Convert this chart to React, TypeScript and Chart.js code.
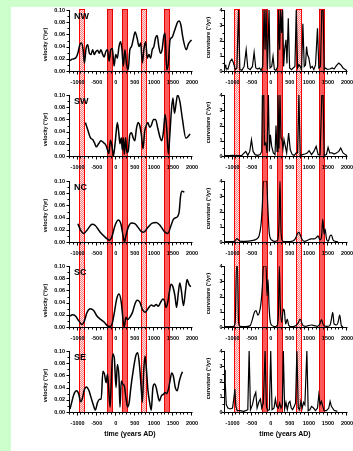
import React, { useEffect, useRef } from "react";
import { Chart, registerables } from "chart.js";
Chart.register(...registerables);

// ---------- axis ticks / categories ----------
const xTickValues = [-1000, -500, 0, 500, 1000, 1500, 2000];
const velTickValues = [0, 0.02, 0.04, 0.06, 0.08, 0.1];
const curvTickValues = [0, 1, 2, 3, 4];
const regionNames = ["NW", "SW", "NC", "SC", "SE"];

// ---------- shaded intervals (years AD) ----------
const bandStarts = [-977, -242, 176, 663, 1256];
const bandEnds = [-819, -84, 334, 821, 1414];
const bandHatched = [true, false, false, true, false];

// ---------- velocity series (deg/yr) ----------
const nwVelYears = [-1200,-1141,-1055,-994,-943,-900,-856,-822,-779,-735,-692,-649,-606,-563,-519,-476,-433,-390,-347,-304,-260,-217,-174,-131,-88,-45,-1,42,85,128,163,197,240,284,327,370,413,456,508,560,612,655,698,741,785,828,871,914,957,1000,1044,1087,1130,1173,1216,1260,1294,1337,1380,1424,1475,1536,1579,1622,1665,1710,1760,1850,1910,1985];
const nwVelValues = [0.017,0.0195,0.021,0.029,0.043,0.046,0.035,0.013,0.037,0.043,0.029,0.027,0.035,0.027,0.032,0.034,0.029,0.035,0.028,0.023,0.032,0.035,0.016,0.035,0.037,0.008,0.027,0.021,0.040,0.048,0.035,0.008,0.035,0.010,0.002,0.035,0.040,0.051,0.064,0.054,0.040,0.046,0.013,0.037,0.048,0.021,0.027,0.021,0.035,0.040,0.054,0.058,0.040,0.029,0.035,0.057,0.062,0.002,0.013,0.051,0.055,0.065,0.073,0.080,0.082,0.075,0.055,0.035,0.045,0.051];

const swVelYears = [-796,-735,-666,-606,-554,-511,-450,-390,-321,-260,-217,-183,-139,-96,-62,-10,42,76,111,146,171,197,223,258,292,327,370,413,456,500,543,586,629,672,715,758,802,845,888,931,992,1044,1104,1164,1208,1251,1294,1337,1380,1424,1460,1500,1540,1580,1620,1680,1750,1840,1950];
const swVelValues = [0.055,0.043,0.030,0.027,0.021,0.015,0.020,0.025,0.022,0.018,0.010,0.004,0.026,0.015,0.000,0.025,0.055,0.040,0.020,0.030,0.010,0.030,0.003,0.030,0.005,0.008,0.035,0.038,0.030,0.025,0.045,0.055,0.050,0.035,0.012,0.040,0.050,0.055,0.047,0.050,0.060,0.060,0.045,0.030,0.025,0.040,0.068,0.045,0.003,0.040,0.075,0.095,0.070,0.085,0.100,0.090,0.060,0.029,0.036];

const ncVelYears = [-994,-925,-839,-735,-623,-537,-407,-278,-165,-105,-19,68,137,197,232,266,327,413,500,586,672,733,845,957,1061,1164,1277,1363,1450,1510,1579,1625,1665,1700,1740,1800];
const ncVelValues = [0.030,0.020,0.014,0.021,0.029,0.027,0.016,0.008,0.003,0.008,0.027,0.036,0.029,0.008,0.000,0.010,0.024,0.031,0.030,0.024,0.017,0.016,0.024,0.031,0.032,0.027,0.017,0.014,0.027,0.037,0.040,0.042,0.050,0.075,0.083,0.082];

const scVelYears = [-1200,-1141,-1055,-969,-882,-822,-753,-666,-580,-494,-407,-304,-217,-148,-96,-36,25,85,146,197,223,266,309,370,439,500,560,629,698,767,845,931,1000,1061,1113,1173,1234,1277,1320,1363,1406,1450,1493,1553,1596,1640,1680,1720,1777,1830,1870,1920,1968];
const scVelValues = [0.018,0.020,0.018,0.010,0.004,0.010,0.024,0.030,0.027,0.018,0.013,0.008,0.002,0.001,0.005,0.024,0.046,0.054,0.040,0.008,0.000,0.016,0.012,0.016,0.024,0.037,0.044,0.041,0.029,0.024,0.030,0.036,0.034,0.037,0.034,0.040,0.046,0.043,0.032,0.040,0.057,0.070,0.067,0.051,0.032,0.055,0.072,0.060,0.035,0.060,0.078,0.070,0.066];

const seVelYears = [-1200,-1167,-1098,-1029,-969,-925,-882,-822,-770,-709,-649,-580,-537,-476,-424,-381,-338,-295,-252,-217,-183,-148,-113,-79,-36,7,42,85,111,146,180,223,266,309,353,396,456,525,577,629,672,698,733,767,802,845,888,931,974,1018,1061,1104,1147,1199,1251,1294,1337,1380,1424,1467,1510,1562,1614,1665,1710,1751];
const seVelValues = [0.005,0.013,0.029,0.035,0.029,0.017,0.021,0.037,0.041,0.036,0.024,0.010,0.003,0.016,0.021,0.021,0.067,0.062,0.048,0.062,0.035,0.008,0.057,0.095,0.087,0.040,0.078,0.057,0.008,0.051,0.046,0.043,0.024,0.008,0.016,0.040,0.067,0.092,0.097,0.072,0.035,0.016,0.067,0.092,0.072,0.035,0.016,0.003,0.040,0.046,0.040,0.027,0.018,0.027,0.029,0.032,0.030,0.037,0.051,0.064,0.059,0.040,0.035,0.050,0.060,0.066];

// ---------- curvature series (deg/yr) ----------
const nwCurvYears = [-1200,-1176,-1124,-1063,-1019,-976,-932,-889,-845,-811,-758,-698,-645,-602,-541,-480,-436,-393,-341,-297,-254,-210,-175,-149,-123,-88,-45,-19,25,60,95,138,182,208,234,260,286,312,338,364,399,425,460,495,547,590,634,669,704,738,773,808,843,878,912,939,965,999,1043,1087,1130,1174,1226,1261,1304,1339,1374,1400,1435,1487,1548,1609,1661,1722,1783,1835,1896,1957,2000];
const nwCurvValues = [0.41,0.2,0.13,0.63,0.78,0.52,0.09,0.2,4,0.1,0.04,0.3,1.39,0.2,0.09,0.3,1.22,0.2,0.13,0.2,0.04,0.3,4,1.4,4,0.1,4,0.2,0.3,0.96,0.1,0.04,0.3,4,1.4,4,2.5,4,0.3,1.4,2.04,0.5,3.46,0.2,0.09,0.2,0.3,4,0.2,0.41,0.3,0.1,3.1,0.3,0.4,1.6,1.06,0.85,0.2,0.3,0.1,0.4,2.8,0.2,0.3,4,4,0.1,0.2,0.1,0.13,0.2,0.13,0.35,0.52,0.41,0.2,0.09,0.02];

const swCurvYears = [-1200,-1107,-976,-845,-758,-698,-654,-602,-550,-506,-463,-410,-341,-280,-236,-219,-184,-167,-132,-97,-62,-36,-10,25,68,112,138,164,190,216,243,269,295,321,347,373,417,469,512,564,617,669,704,738,773,834,895,956,1008,1069,1130,1191,1243,1295,1339,1374,1400,1461,1504,1548,1609,1661,1722,1783,1835,1896,1957,2000];
const swCurvValues = [0.02,0.02,0.04,0.02,0.04,0.2,0.3,0.04,0.3,1.07,0.3,0.09,0.04,0.09,0.3,4,4,0.74,0.85,0.2,4,0.3,1.39,0.63,0.2,0.09,2.0,0.3,4,0.5,4,1.17,1.07,0.5,1.07,0.74,0.2,1.5,0.41,0.09,0.04,0.2,0.2,4,0.04,0.09,0.13,0.2,0.35,0.09,0.3,0.63,0.09,0.09,4,4,0.04,0.09,0.57,0.2,0.2,0.13,0.2,0.3,0.52,0.2,0.09,0.02];

const ncCurvYears = [-1200,-1063,-950,-889,-845,-776,-671,-497,-367,-306,-254,-219,-193,-106,-80,-36,25,112,182,216,243,269,304,373,460,547,617,660,704,738,782,826,895,982,1052,1139,1200,1243,1287,1330,1365,1400,1426,1461,1504,1557,1591,1635,1696,1760];
const ncCurvValues = [0.02,0.02,0.04,0.22,0.13,0.04,0.04,0.09,0.2,0.41,1.17,2.5,4,4,2.5,0.52,0.13,0.04,0.13,1.2,4,0.74,0.09,0.02,0.02,0.04,0.13,0.3,0.57,0.63,0.41,0.15,0.04,0.13,0.2,0.2,0.3,0.4,0.13,0.3,1.5,0.52,0.85,0.2,0.04,0.41,0.45,0.13,0.04,0.02];

const scCurvYears = [-1200,-1063,-976,-932,-898,-872,-845,-802,-671,-541,-480,-428,-384,-341,-297,-254,-219,-193,-123,-97,-71,-45,-10,42,112,164,199,225,251,286,330,356,390,434,469,530,617,704,773,834,912,982,1069,1139,1226,1287,1330,1382,1461,1548,1591,1626,1661,1722,1765,1809,1852,1896];
const scCurvValues = [0.02,0.02,0.04,0.3,4,4,0.3,0.04,0.02,0.09,0.52,0.96,1.07,0.78,0.96,1.6,2.7,4,4,2.04,3.13,1.39,0.3,0.09,0.02,0.09,0.74,4,1.39,0.3,1.17,1.07,0.2,0.52,0.13,0.02,0.04,0.2,0.52,0.13,0.04,0.09,0.13,0.09,0.04,0.2,0.48,0.13,0.04,0.09,0.52,0.96,0.2,0.13,0.3,0.78,0.09,0.02];

const seCurvYears = [-1200,-1194,-1167,-1124,-1063,-1002,-967,-941,-915,-880,-802,-715,-654,-602,-567,-532,-480,-436,-393,-358,-306,-271,-236,-193,-149,-114,-80,-36,-1,34,86,121,155,199,234,269,304,330,364,399,434,469,503,538,573,617,651,686,721,756,791,825,860,895,947,982,1026,1069,1121,1174,1226,1261,1295,1330,1365,1400,1461,1522,1557,1591,1661,1748];
const seCurvValues = [2.76,1.9,0.48,0.26,0.2,0.26,0.9,1.5,0.37,0.09,0.09,0.04,0.09,0.15,4,0.15,0.48,1.0,1.28,0.26,0.7,0.85,0.26,0.59,4,0.37,0.09,0.15,4,0.15,0.26,0.85,0.37,0.26,0.59,0.26,0.48,4,0.2,0.63,0.15,0.59,0.7,0.26,0.15,0.37,0.59,4,0.26,0.15,0.7,0.26,0.63,0.48,4,0.09,0.15,0.37,0.26,0.09,0.26,1.13,0.48,0.7,0.37,0.09,0.09,0.26,0.7,0.37,0.11,0.04];

const velYears = [nwVelYears, swVelYears, ncVelYears, scVelYears, seVelYears];
const velValues = [nwVelValues, swVelValues, ncVelValues, scVelValues, seVelValues];
const curvYears = [nwCurvYears, swCurvYears, ncCurvYears, scCurvYears, seCurvYears];
const curvValues = [nwCurvValues, swCurvValues, ncCurvValues, scCurvValues, seCurvValues];

// ---------- layout ----------
const FONT = '"Liberation Sans", Arial, Helvetica, sans-serif';
const CANVAS_TOPS = [7, 92, 178, 263, 348];
const CANVAS_HEIGHTS = [85, 86, 85, 85, 103];
const PLOT_TOP = 3;
const PLOT_H = 61;
const COLS = {
  vel: { left: 11, width: 189, axisW: 59, padRight: 8, tickPad: 5, titleX: 35, title: "velocity (°/yr)", titleSize: 5.3, titleDy: 4 },
  curv: { left: 200, width: 153, axisW: 25, padRight: 6, tickPad: 2.5, titleX: 8.5, title: "curvature (°/yr)", titleSize: 5.8, titleDy: -3 },
};

let hatchPattern: CanvasPattern | null = null;
function getPattern(ctx: CanvasRenderingContext2D) {
  if (hatchPattern) return hatchPattern;
  const c = document.createElement("canvas");
  c.width = 2; c.height = 2;
  const g = c.getContext("2d")!;
  g.fillStyle = "#ffe4e4"; g.fillRect(0, 0, 2, 2);
  g.fillStyle = "#ff8080"; g.fillRect(0, 0, 1, 1); g.fillRect(1, 1, 1, 1);
  hatchPattern = ctx.createPattern(c, "repeat");
  return hatchPattern!;
}

type Kind = "vel" | "curv";

function Panel({ kind, row }: { kind: Kind; row: number }) {
  const ref = useRef<HTMLCanvasElement>(null);
  const col = COLS[kind];
  const h = CANVAS_HEIGHTS[row];
  useEffect(() => {
    const isVel = kind === "vel";
    const years = isVel ? velYears[row] : curvYears[row];
    const vals = isVel ? velValues[row] : curvValues[row];
    const yMax = isVel ? 0.1 : 4;
    const xAxisH = h - PLOT_TOP - PLOT_H;
    const smooth = isVel || row === 2 || row === 3;

    const deco = {
      id: "deco",
      beforeDraw(chart: any) {
        const { ctx, chartArea, scales } = chart;
        const xs = scales.x;
        const top = row === 0 ? chartArea.top - 1 : 0;
        const bottom = row === 4 ? chartArea.bottom + 1 : chart.height;
        ctx.save();
        bandStarts.forEach((s, i) => {
          const x0 = Math.round(xs.getPixelForValue(s));
          const x1 = Math.round(xs.getPixelForValue(bandEnds[i]));
          ctx.fillStyle = bandHatched[i] ? getPattern(ctx) : "#ff5a5a";
          ctx.fillRect(x0, top, x1 - x0, bottom - top);
          ctx.strokeStyle = bandHatched[i] ? "#ff0000" : "#e60000";
          ctx.lineWidth = 1;
          ctx.beginPath();
          ctx.moveTo(x0 + 0.5, top); ctx.lineTo(x0 + 0.5, bottom);
          ctx.moveTo(x1 - 0.5, top); ctx.lineTo(x1 - 0.5, bottom);
          if (row === 0) { ctx.moveTo(x0, top + 0.5); ctx.lineTo(x1, top + 0.5); }
          if (row === 4) { ctx.moveTo(x0, bottom - 0.5); ctx.lineTo(x1, bottom - 0.5); }
          ctx.stroke();
        });
        ctx.restore();
      },
      afterDraw(chart: any) {
        const { ctx, chartArea, scales } = chart;
        const xs = scales.x, ys = scales.y;
        const L = chartArea.left - 0.5;
        const B = chartArea.bottom + 0.5;
        ctx.save();
        ctx.strokeStyle = "#000";
        ctx.lineWidth = 1;
        ctx.beginPath();
        ctx.moveTo(L, chartArea.top);
        ctx.lineTo(L, B);
        ctx.lineTo(chartArea.right + 0.5, B);
        for (let v = -1200; v <= 2000; v += 100) {
          const px = Math.round(xs.getPixelForValue(v)) - 0.5;
          const len = v % 500 === 0 ? 3 : 2;
          ctx.moveTo(px, B); ctx.lineTo(px, B + len);
        }
        const step = isVel ? 0.01 : 0.5;
        const n = Math.round(yMax / step);
        for (let k = 0; k <= n; k++) {
          const py = Math.round(ys.getPixelForValue(k * step)) + 0.5;
          const len = k % 2 === 0 ? 3 : 2;
          ctx.moveTo(L, py); ctx.lineTo(L - len, py);
        }
        ctx.stroke();

        ctx.fillStyle = "#000";
        ctx.save();
        ctx.font = `bold ${col.titleSize}px ${FONT}`;
        ctx.textAlign = "center";
        ctx.textBaseline = "middle";
        ctx.translate(col.titleX, (chartArea.top + chartArea.bottom) / 2 + col.titleDy);
        ctx.rotate(-Math.PI / 2);
        ctx.fillText(col.title, 0, 0);
        ctx.restore();
        if (isVel) {
          ctx.font = `bold 9px ${FONT}`;
          ctx.textAlign = "left";
          ctx.textBaseline = "alphabetic";
          ctx.fillText(regionNames[row], chartArea.left + 4, chartArea.top + 8.5);
        }
        if (row === 4) {
          ctx.font = `bold 7px ${FONT}`;
          ctx.textAlign = "center";
          ctx.textBaseline = "middle";
          ctx.fillText("time (years AD)", (chartArea.left + chartArea.right) / 2 - 1, chartArea.bottom + 22);
        }
        ctx.restore();
      },
    };

    const tickFont = { size: 5.5, weight: "bold" as const, family: FONT };
    const chart = new Chart(ref.current!, {
      type: "line",
      data: {
        datasets: [
          {
            data: years.map((x, i) => ({ x, y: vals[i] })),
            borderColor: "#000",
            borderWidth: isVel ? 1.5 : 1.2,
            pointRadius: 0,
            fill: false,
            tension: smooth ? 0.4 : 0,
            cubicInterpolationMode: smooth ? "monotone" : "default",
          },
        ],
      },
      options: {
        responsive: false,
        animation: false,
        devicePixelRatio: 1,
        layout: { padding: { top: PLOT_TOP, right: col.padRight, left: 0, bottom: 0 } },
        plugins: { legend: { display: false }, tooltip: { enabled: false } },
        scales: {
          x: {
            type: "linear",
            min: -1200,
            max: 2000,
            grid: { display: false, drawTicks: false },
            border: { display: false },
            ticks: {
              padding: 8,
              font: tickFont,
              color: "#000",
              maxRotation: 0,
              autoSkip: false,
              callback: (v: any) => String(v),
            },
            afterBuildTicks: (s: any) => { s.ticks = xTickValues.map((value) => ({ value })); },
            afterFit: (s: any) => { s.height = xAxisH; s.paddingLeft = 0; s.paddingRight = 0; },
          },
          y: {
            type: "linear",
            min: 0,
            max: yMax,
            grid: { display: false, drawTicks: false },
            border: { display: false },
            ticks: {
              padding: col.tickPad,
              font: tickFont,
              color: "#000",
              autoSkip: false,
              callback: (v: any) => (isVel ? Number(v).toFixed(2) : String(v)),
            },
            afterBuildTicks: (s: any) => {
              s.ticks = (isVel ? velTickValues : curvTickValues).map((value) => ({ value }));
            },
            afterFit: (s: any) => { s.width = col.axisW; s.paddingTop = 0; s.paddingBottom = 0; },
          },
        },
      } as any,
      plugins: [deco],
    });
    return () => chart.destroy();
  }, [kind, row]);

  return (
    <canvas
      ref={ref}
      width={col.width}
      height={h}
      style={{ position: "absolute", left: col.left, top: CANVAS_TOPS[row], width: col.width, height: h, display: "block" }}
    />
  );
}

export default function App() {
  const rows = [0, 1, 2, 3, 4];
  return (
    <div style={{ position: "fixed", left: 0, top: 0, width: 353, height: 451, background: "#ccffcc", overflow: "hidden" }}>
      <div style={{ position: "absolute", left: 11, top: 7, right: 0, bottom: 0, background: "#ffffff" }} />
      {rows.map((r) => (
        <Panel key={"v" + r} kind="vel" row={r} />
      ))}
      {rows.map((r) => (
        <Panel key={"c" + r} kind="curv" row={r} />
      ))}
    </div>
  );
}
